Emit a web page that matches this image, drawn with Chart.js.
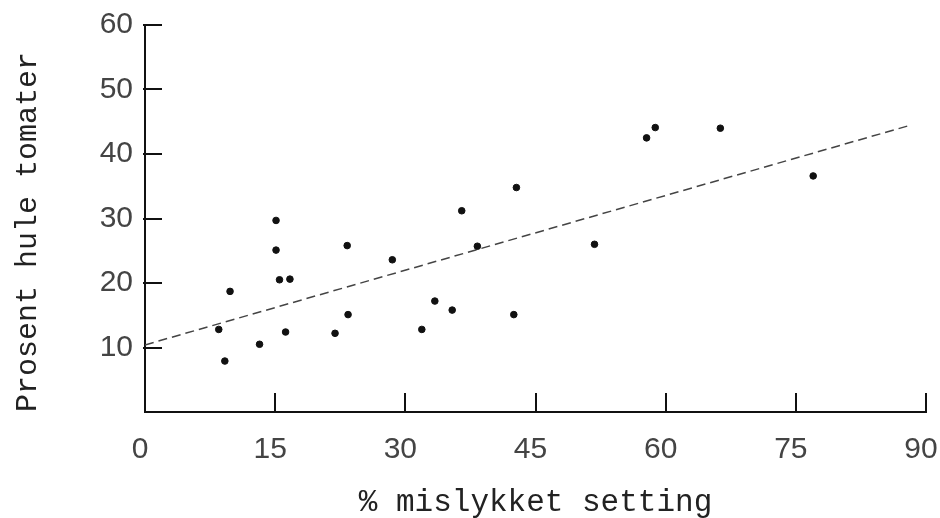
<!DOCTYPE html>
<html>
<head>
<meta charset="utf-8">
<script src="https://cdn.jsdelivr.net/npm/chart.js@4"></script>
<style>
  html, body { margin: 0; padding: 0; background: #fff; }
  #wrap { width: 940px; height: 518px; }
</style>
</head>
<body>
<div id="wrap"><canvas id="scatterChart" width="940" height="518"></canvas></div>
<script>
// Data
const xValues = [8.5, 9.2, 9.8, 13.2, 15.1, 15.1, 15.5, 16.2, 16.7, 21.9, 23.3, 23.4, 28.5,
  31.9, 33.4, 35.4, 36.5, 38.3, 42.5, 42.8, 51.8, 57.8, 58.8, 66.3, 77.0];
const yValues = [12.8, 7.9, 18.7, 10.5, 29.7, 25.1, 20.5, 12.4, 20.6, 12.2, 25.8, 15.1, 23.6,
  12.8, 17.2, 15.8, 31.2, 25.7, 15.1, 34.8, 26.0, 42.5, 44.1, 44.0, 36.6];
const trendX = [0, 88.3];
const trendY = [10.4, 44.5];
const xTicks = [0, 15, 30, 45, 60, 75, 90];
const yTicks = [10, 20, 30, 40, 50, 60];

const points = xValues.map((x, i) => ({ x, y: yValues[i] }));
const trend = trendX.map((x, i) => ({ x, y: trendY[i] }));

// Tick marks point into the plot, so draw them ourselves from the scales
const innerTicks = {
  id: "innerTicks",
  afterDraw(chart) {
    const { ctx, scales } = chart;
    const xs = scales.x, ys = scales.y;
    const x0 = xs.getPixelForValue(0);
    const y0 = ys.getPixelForValue(0);
    ctx.save();
    ctx.strokeStyle = "#111";
    ctx.lineWidth = 2;
    yTicks.forEach(v => {
      const py = Math.round(ys.getPixelForValue(v));
      ctx.beginPath();
      ctx.moveTo(x0 - 2, py);
      ctx.lineTo(x0 + 17, py);
      ctx.stroke();
    });
    xTicks.slice(1).forEach(v => {
      const px = Math.round(xs.getPixelForValue(v));
      ctx.beginPath();
      ctx.moveTo(px, y0);
      ctx.lineTo(px, y0 - 19);
      ctx.stroke();
    });
    ctx.restore();
  }
};

new Chart(document.getElementById("scatterChart"), {
  type: "scatter",
  data: {
    datasets: [
      {
        data: points,
        backgroundColor: "#111",
        borderColor: "#111",
        pointRadius: 3.3,
        pointHoverRadius: 3.3
      },
      {
        type: "line",
        data: trend,
        borderColor: "#444",
        borderWidth: 1.5,
        borderDash: [9, 5],
        pointRadius: 0,
        fill: false
      }
    ]
  },
  options: {
    responsive: false,
    animation: false,
    layout: { padding: { top: 25, right: 14, left: 0, bottom: 0 } },
    plugins: { legend: { display: false }, tooltip: { enabled: false } },
    scales: {
      x: {
        type: "linear",
        min: 0,
        max: 90,
        afterFit: scale => {
          scale.height = 106;
          scale.paddingLeft = 0;
          scale.paddingRight = 0;
        },
        afterBuildTicks: scale => { scale.ticks = xTicks.map(v => ({ value: v })); },
        grid: { display: false, drawTicks: false },
        border: { display: true, color: "#111", width: 2 },
        ticks: {
          padding: 20,
          labelOffset: -5,
          color: "#444",
          font: { family: "'Liberation Sans', Arial, sans-serif", size: 30 }
        },
        title: {
          display: true,
          text: "% mislykket setting",
          color: "#222",
          padding: { top: 0, bottom: 0 },
          font: { family: "'Liberation Mono', 'DejaVu Sans Mono', monospace", size: 31, lineHeight: 1.0 }
        }
      },
      y: {
        type: "linear",
        min: 0,
        max: 60,
        afterFit: scale => {
          scale.width = 145;
          scale.paddingTop = 0;
          scale.paddingBottom = 0;
        },
        afterBuildTicks: scale => { scale.ticks = yTicks.map(v => ({ value: v })); },
        grid: { display: false, drawTicks: false },
        border: { display: true, color: "#111", width: 2 },
        ticks: {
          padding: 12,
          color: "#444",
          font: { family: "'Liberation Sans', Arial, sans-serif", size: 30 }
        },
        title: {
          display: true,
          text: "Prosent hule tomater",
          align: "start",
          color: "#222",
          padding: { top: 10, bottom: 0 },
          font: { family: "'Liberation Mono', 'DejaVu Sans Mono', monospace", size: 30 }
        }
      }
    }
  },
  plugins: [innerTicks]
});
</script>
</body>
</html>
